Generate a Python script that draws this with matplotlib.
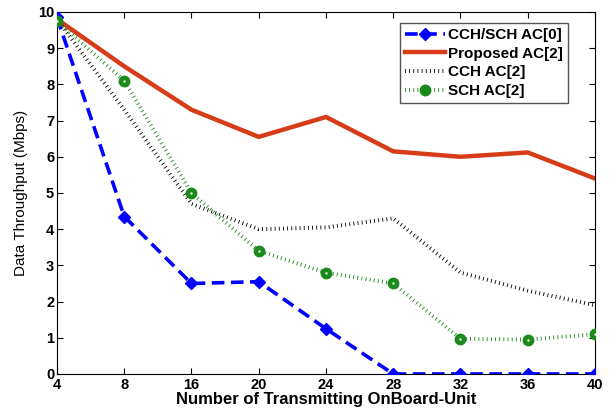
import matplotlib
matplotlib.use("Agg")
import matplotlib.pyplot as plt
import numpy as np

plt.rcParams['font.family'] = ['Liberation Sans', 'DejaVu Sans']

x_labels = ['4', '8', '16', '20', '24', '28', '32', '36', '40']
cch_sch_ac0 = [9.85, 4.35, 2.5, 2.55, 1.25, 0.0, 0.0, 0.0, 0.0]
proposed_ac2 = [9.8, 8.5, 7.3, 6.55, 7.1, 6.15, 6.0, 6.12, 5.4]
cch_ac2 = [9.8, 7.3, 4.7, 4.0, 4.05, 4.3, 2.8, 2.3, 1.9]
sch_ac2 = [9.75, 8.1, 5.0, 3.4, 2.8, 2.5, 0.97, 0.95, 1.1]

fig = plt.figure(figsize=(6.1, 4.18), dpi=100)
ax = fig.add_axes([0.0934, 0.1053, 0.882, 0.866])
xs = np.arange(len(x_labels))

green = '#1a8a1a'
ax.plot(xs, cch_sch_ac0, color='#0000ff', lw=2.6, ls=(0, (3.5, 1.8)), marker='D',
        ms=6.5, mfc='#0000ff', mec='#0000ff', label='CCH/SCH AC[0]', zorder=3)
ax.plot(xs, proposed_ac2, color='#d63c17', lw=3.2, label='Proposed AC[2]', zorder=2)
ax.plot(xs, cch_ac2, color='black', lw=2.8, ls=(0, (0.22, 0.85)), label='CCH AC[2]', zorder=2)
ax.plot(xs, sch_ac2, color=green, lw=2.8, ls=(0, (0.22, 0.85)), marker='o',
        ms=7.5, mfc=green, mec=green, label='SCH AC[2]', zorder=3)
ax.plot(xs, sch_ac2, ls='none', marker='o', ms=1.8, mfc='#dff0df', mec='none', zorder=4)

ax.set_xlim(0, len(x_labels) - 1)
ax.set_ylim(0, 10)
ax.set_xticks(xs)
ax.set_xticklabels(x_labels)
ax.set_yticks(range(0, 11))
ax.tick_params(direction='in', top=True, right=True, labelsize=10.5, length=4)
ax.tick_params(axis='x', pad=3)
ax.tick_params(axis='y', pad=2)
for lab in ax.get_xticklabels() + ax.get_yticklabels():
    lab.set_fontweight('bold')
ax.set_xlabel('Number of Transmitting OnBoard-Unit', fontsize=12, fontweight='bold', labelpad=0)
ax.set_ylabel('Data Throughput (Mbps)', fontsize=11, labelpad=7)

leg = ax.legend(loc='upper right', bbox_to_anchor=(0.95, 0.97),
                prop={'weight': 'bold', 'size': 11}, fancybox=False, edgecolor='#555555',
                handlelength=2.6, handletextpad=0.2, borderpad=0.35, labelspacing=0.3,
                borderaxespad=0.0, framealpha=1)
leg.get_frame().set_linewidth(1.0)

fig.savefig('out.png', dpi=100)
